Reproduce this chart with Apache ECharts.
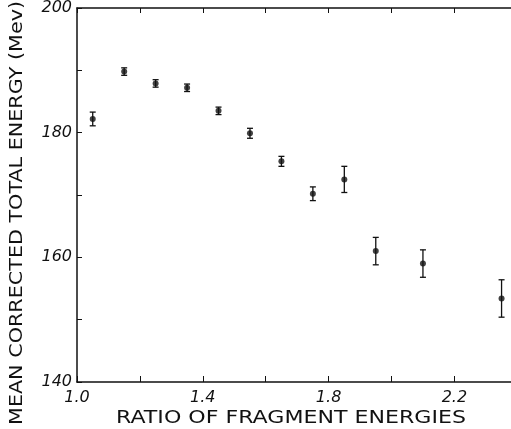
<html>
<head>
    <meta charset="utf-8" />
    <title>Mean corrected total energy</title>
    <script src="https://cdn.jsdelivr.net/npm/echarts@6/dist/echarts.min.js"></script>
    <script type="text/javascript">
        // ratio of fragment energies, mean total energy (Mev), error half-width
        var ratios = [1.05, 1.15, 1.25, 1.35, 1.45, 1.55, 1.65, 1.75, 1.85, 1.95, 2.10, 2.35];
        var energies = [182.2, 189.8, 187.9, 187.2, 183.5, 179.9, 175.4, 170.2, 172.5, 161.0, 159.0, 153.4];
        var errors = [1.1, 0.6, 0.6, 0.6, 0.6, 0.8, 0.8, 1.1, 2.1, 2.2, 2.2, 3.0];
        var xLabels = ['1.0', '1.4', '1.8', '2.2'];
        var yLabels = ['140', '160', '180', '200'];
    </script>
</head>
<body style="margin:0;background:#fff;">
    <div id="chart" style="width: 511px;height:429px;"></div>
    <script type="text/javascript">
        var chart = echarts.init(document.getElementById('chart'));
        var ink = '#111';
        var tickFont = {color: ink, fontFamily: 'DejaVu Sans', fontStyle: 'italic', fontSize: 16};

        var points = ratios.map(function (r, i) { return [r, energies[i]]; });
        var bars = ratios.map(function (r, i) { return [r, energies[i] - errors[i], energies[i] + errors[i]]; });

        function xFmt(v) {
            var s = v.toFixed(1);
            return xLabels.indexOf(s) >= 0 ? s : '';
        }
        function yFmt(v) {
            var s = String(Math.round(v));
            return yLabels.indexOf(s) >= 0 ? s : '';
        }

        var option = {
            animation: false,
            backgroundColor: '#fff',
            grid: {left: 77, top: 8, bottom: 47, right: 0},
            xAxis: [{
                type: 'value', min: 1.0, max: 2.38, interval: 0.2,
                axisLine: {lineStyle: {color: ink, width: 1.5}},
                axisTick: {inside: true, length: 6, lineStyle: {color: ink}},
                axisLabel: {formatter: xFmt, margin: 8, showMaxLabel: false, ...tickFont},
                splitLine: {show: false}
            }, {
                type: 'value', position: 'top', min: 1.0, max: 2.38, interval: 0.2,
                axisLine: {lineStyle: {color: ink, width: 1.5}},
                axisTick: {inside: true, length: 5, lineStyle: {color: ink}},
                axisLabel: {show: false},
                splitLine: {show: false}
            }],
            yAxis: {
                type: 'value', min: 140, max: 200, interval: 10,
                axisLine: {lineStyle: {color: ink, width: 1.5}},
                axisTick: {inside: true, length: 5, lineStyle: {color: ink}},
                axisLabel: {formatter: yFmt, margin: 5, ...tickFont},
                splitLine: {show: false}
            },
            graphic: [{
                type: 'text', x: 17, y: 213, rotation: Math.PI / 2, scaleX: 1.15,
                style: {
                    text: 'MEAN CORRECTED TOTAL ENERGY (Mev)', fill: ink,
                    font: '18px "DejaVu Sans"', align: 'center', verticalAlign: 'middle'
                }
            }, {
                type: 'text', x: 291, y: 419, scaleX: 1.3,
                style: {
                    text: 'RATIO OF FRAGMENT ENERGIES', fill: ink,
                    font: '17px "DejaVu Sans"', align: 'center', verticalAlign: 'middle'
                }
            }],
            series: [{
                type: 'custom',
                data: bars,
                renderItem: function (params, api) {
                    var lo = api.coord([api.value(0), api.value(1)]);
                    var hi = api.coord([api.value(0), api.value(2)]);
                    var w = 3;
                    var st = {stroke: ink, lineWidth: 1.3};
                    return {type: 'group', children: [
                        {type: 'line', shape: {x1: lo[0], y1: lo[1], x2: hi[0], y2: hi[1]}, style: st},
                        {type: 'line', shape: {x1: lo[0] - w, y1: lo[1], x2: lo[0] + w, y2: lo[1]}, style: st},
                        {type: 'line', shape: {x1: hi[0] - w, y1: hi[1], x2: hi[0] + w, y2: hi[1]}, style: st}
                    ]};
                },
                z: 2
            }, {
                type: 'scatter',
                data: points,
                symbol: 'circle',
                symbolSize: 6,
                itemStyle: {color: ink},
                z: 3
            }]
        };
        chart.setOption(option);
    </script>
</body>
</html>
